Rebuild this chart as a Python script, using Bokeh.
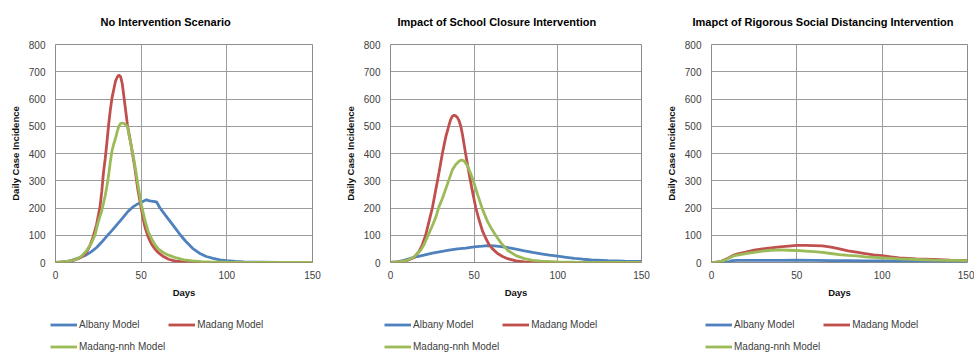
from bokeh.plotting import figure
from bokeh.layouts import row, column
from bokeh.models import Range1d, Legend, LegendItem, Title, FixedTicker
from bokeh.embed import file_html
from bokeh.resources import INLINE

# ---------------- data ----------------
series_names = ["Albany Model", "Madang Model", "Madang-nnh Model"]
series_colors = ["#4F81BD", "#C0504D", "#9BBB59"]
titles = ["No Intervention Scenario",
          "Impact of School Closure Intervention",
          "Imapct of Rigorous Social Distancing Intervention"]
x_ticks = [0, 50, 100, 150]
y_ticks = [0, 100, 200, 300, 400, 500, 600, 700, 800]

# Panel 1: no intervention
p1_albany_days = [0, 3, 6, 9, 12, 15, 18, 21, 24, 27, 30, 33, 36, 39, 42, 45, 48, 51, 53, 55, 57, 59, 61, 64, 67, 70, 73, 76, 80, 84, 88, 92, 96, 100, 105, 110, 120, 130, 150]
p1_albany_cases = [0, 1, 3, 7, 13, 20, 28, 40, 55, 75, 97, 118, 140, 162, 185, 203, 215, 224, 230, 226, 224, 222, 200, 175, 150, 125, 100, 78, 52, 34, 22, 15, 10, 7, 4, 2, 1, 0, 0]
p1_madang_days = [0, 4, 8, 11, 14, 16, 18, 20, 22, 24, 26, 27, 28, 29, 30, 31, 32, 33, 34, 35, 36, 37, 38, 39, 40, 41, 42, 44, 46, 48, 50, 52, 54, 56, 58, 60, 63, 66, 70, 75, 80, 90, 150]
p1_madang_cases = [0, 2, 5, 9, 16, 24, 36, 60, 95, 140, 205, 260, 330, 380, 440, 505, 560, 605, 635, 665, 680, 688, 682, 655, 605, 555, 505, 435, 360, 270, 200, 135, 95, 68, 50, 36, 22, 12, 5, 2, 1, 0, 0]
p1_nnh_days = [0, 4, 8, 12, 15, 18, 21, 23, 25, 27, 29, 30, 31, 32, 33, 34, 35, 36, 37, 38, 39, 40, 41, 42, 43, 44, 46, 48, 50, 52, 54, 56, 58, 60, 63, 66, 70, 75, 80, 85, 90, 100, 150]
p1_nnh_cases = [0, 2, 5, 12, 22, 42, 72, 100, 150, 190, 245, 280, 320, 370, 410, 435, 455, 480, 500, 510, 512, 510, 505, 498, 465, 435, 370, 290, 215, 160, 115, 88, 66, 50, 36, 27, 18, 10, 6, 3, 2, 1, 0]

# Panel 2: school closure
p2_albany_days = [0, 4, 8, 12, 16, 20, 25, 30, 35, 40, 45, 50, 55, 58, 62, 66, 70, 75, 80, 85, 90, 95, 100, 105, 110, 115, 120, 130, 140, 150]
p2_albany_cases = [0, 2, 8, 15, 22, 27, 34, 40, 45, 50, 53, 57, 60, 62, 61, 58, 55, 49, 43, 37, 32, 27, 23, 19, 15, 12, 10, 7, 5, 4]
p2_madang_days = [0, 5, 10, 14, 17, 19, 21, 23, 25, 27, 29, 31, 33, 35, 36, 37, 38, 39, 40, 41, 42, 43, 45, 47, 49, 51, 53, 55, 57, 59, 61, 64, 67, 70, 75, 80, 90, 150]
p2_madang_cases = [0, 2, 7, 18, 40, 65, 100, 150, 200, 265, 330, 400, 460, 505, 525, 537, 540, 538, 532, 520, 500, 470, 395, 325, 260, 200, 155, 115, 88, 65, 50, 33, 22, 14, 6, 2, 0, 0]
p2_nnh_days = [0, 5, 10, 14, 18, 20, 22.5, 25, 27, 29, 31, 33, 35, 37, 39, 41, 42.5, 44, 46, 48, 50, 52, 55, 58, 60, 63, 66, 70, 75, 80, 85, 90, 100, 110, 150]
p2_nnh_cases = [0, 2, 8, 20, 45, 65, 100, 135, 165, 205, 235, 270, 305, 340, 360, 372, 376, 373, 355, 325, 290, 250, 195, 150, 128, 98, 72, 45, 25, 14, 8, 5, 2, 1, 0]

# Panel 3: rigorous social distancing
p3_albany_days = [0, 5, 10, 12, 15, 20, 30, 40, 50, 60, 70, 80, 90, 100, 110, 120, 135, 150]
p3_albany_cases = [0, 1, 2, 7, 8, 8, 8, 8, 9, 8, 7, 7, 6, 6, 5, 5, 4, 4]
p3_madang_days = [0, 3, 5, 7, 9, 11, 13, 16, 20, 25, 30, 35, 40, 45, 50, 55, 60, 65, 70, 75, 80, 85, 90, 95, 100, 105, 110, 115, 120, 130, 140, 150]
p3_madang_cases = [0, 1, 3, 8, 14, 20, 27, 33, 38, 45, 50, 54, 57, 60, 63, 63, 62, 61, 56, 50, 43, 38, 33, 28, 25, 21, 17, 15, 13, 11, 9, 8]
p3_nnh_days = [0, 3, 5, 7, 9, 11, 13, 16, 20, 25, 30, 35, 40, 45, 50, 55, 60, 65, 70, 75, 80, 85, 90, 95, 100, 110, 120, 130, 140, 150]
p3_nnh_cases = [0, 1, 3, 7, 12, 18, 24, 28, 33, 37, 42, 45, 46, 45, 44, 42, 40, 37, 33, 29, 26, 24, 21, 19, 17, 13, 11, 9, 8, 7]

panels_data = [
    [(p1_albany_days, p1_albany_cases), (p1_madang_days, p1_madang_cases), (p1_nnh_days, p1_nnh_cases)],
    [(p2_albany_days, p2_albany_cases), (p2_madang_days, p2_madang_cases), (p2_nnh_days, p2_nnh_cases)],
    [(p3_albany_days, p3_albany_cases), (p3_madang_days, p3_madang_cases), (p3_nnh_days, p3_nnh_cases)],
]

# ---------------- layout ----------------
FONT = "Liberation Sans"
PLOT_H = 304
LEG_H = 48
fig_widths = [340, 322, 312]
borders_left = [55, 50, 49]
borders_right = [28, 21, 7]
title_align = ["left", "left", "right"]
title_offset = [45, 7, 14]
legend_x = [50, 44, 43]


def make_panel(i):
    p = figure(width=fig_widths[i], height=PLOT_H, output_backend="svg", toolbar_location=None,
               x_range=Range1d(0, 150), y_range=Range1d(0, 800),
               min_border_left=borders_left[i], min_border_right=borders_right[i],
               min_border_top=44, min_border_bottom=PLOT_H - 262)
    p.background_fill_color = "white"
    p.border_fill_color = "white"
    p.outline_line_color = "#8c8c8c"
    p.outline_line_width = 1

    p.xaxis.ticker = FixedTicker(ticks=x_ticks)
    p.yaxis.ticker = FixedTicker(ticks=y_ticks)
    p.xgrid.ticker = FixedTicker(ticks=x_ticks)
    p.ygrid.ticker = FixedTicker(ticks=y_ticks)
    p.grid.grid_line_color = "#9c9c9c"
    p.grid.grid_line_width = 1

    for ax in (p.xaxis[0], p.yaxis[0]):
        ax.axis_line_color = None
        ax.major_tick_line_color = None
        ax.minor_tick_line_color = None
        ax.major_tick_out = 0
        ax.major_tick_in = 0
        ax.minor_tick_out = 0
        ax.major_label_text_font = FONT
        ax.major_label_text_font_size = "10px"
        ax.major_label_text_color = "#404040"
        ax.axis_label_text_font = FONT
        ax.axis_label_text_font_size = "9.5px"
        ax.axis_label_text_font_style = "bold"
        ax.axis_label_text_color = "#111111"
        ax.axis_label_standoff = 5
    p.xaxis.axis_label = "Days"
    p.yaxis.axis_label = "Daily Case Incidence"
    p.yaxis.major_label_standoff = 10
    p.xaxis.major_label_standoff = 8

    for (days, cases), color in zip(panels_data[i], series_colors):
        p.line(days, cases, line_color=color, line_width=2.8)

    p.title = Title(text=titles[i], align=title_align[i], offset=title_offset[i],
                    vertical_align="top", standoff=30, text_font=FONT,
                    text_font_size="11px", text_font_style="bold", text_color="#000000")

    # legend strip below the chart (series drawn out of view, only the keys show)
    lg = figure(width=fig_widths[i], height=LEG_H, output_backend="svg", toolbar_location=None,
                x_range=Range1d(0, 150), y_range=Range1d(-2, -1), min_border=0,
                x_axis_location=None, y_axis_location=None)
    lx = legend_x[i]
    if "frame_align" in lg.properties():
        lg.frame_align = False
    else:
        lx = legend_x[i] - borders_left[i]
    lg.outline_line_color = None
    lg.grid.visible = False
    lg.background_fill_color = "white"
    lg.border_fill_color = "white"
    keys = [lg.line(days, cases, line_color=c, line_width=2.8)
            for (days, cases), c in zip(panels_data[i], series_colors)]
    items = [LegendItem(label=n, renderers=[r]) for n, r in zip(series_names, keys)]
    legend = Legend(items=items, location=(lx, -4), orientation="horizontal", ncols=2,
                    padding=0, margin=0, spacing=3, glyph_width=27, glyph_height=19,
                    label_height=19, label_standoff=2, label_text_font=FONT,
                    label_text_font_size="10px", label_text_color="#404040",
                    border_line_color=None, background_fill_alpha=0)
    lg.add_layout(legend, "center")
    return column(p, lg, spacing=0)


panels = [make_panel(i) for i in range(3)]
layout = row(*panels, spacing=0)

open("out.html", "w").write(file_html(layout, INLINE))
